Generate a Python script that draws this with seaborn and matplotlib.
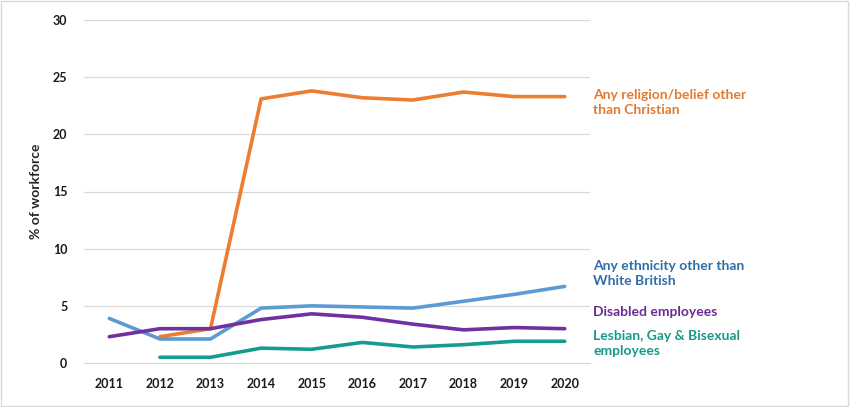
import numpy as np
import pandas as pd
import seaborn as sns
from matplotlib import pyplot as plt
from matplotlib.patches import Rectangle

years = [2011, 2012, 2013, 2014, 2015, 2016, 2017, 2018, 2019, 2020]
religion = [np.nan, 2.3, 3.0, 23.1, 23.8, 23.2, 23.0, 23.7, 23.3, 23.3]
ethnicity = [3.9, 2.1, 2.1, 4.8, 5.0, 4.9, 4.8, 5.4, 6.0, 6.7]
disabled = [2.3, 3.0, 3.0, 3.8, 4.3, 4.0, 3.4, 2.9, 3.1, 3.0]
lgb = [np.nan, 0.5, 0.5, 1.3, 1.2, 1.8, 1.4, 1.6, 1.9, 1.9]

series = {
    'Any religion/belief other\nthan Christian': religion,
    'Any ethnicity other than\nWhite British': ethnicity,
    'Disabled employees': disabled,
    'Lesbian, Gay & Bisexual\nemployees': lgb,
}
line_colors = ['#ED7D31', '#5B9BD5', '#7030A0', '#169C8E']
text_colors = ['#E07B30', '#2F6EA8', '#6A2C91', '#16998A']

rows = []
for name, vals in series.items():
    for yr, v in zip(years, vals):
        if not np.isnan(v):
            rows.append({'Year': yr, 'Value': v, 'Group': name})
df = pd.DataFrame(rows)

sns.set_style('white')
plt.rcParams['font.family'] = ['Lato', 'DejaVu Sans']

fig = plt.figure(figsize=(8.5, 4.07), dpi=100)
ax = fig.add_axes([84 / 850, 44 / 407, 506 / 850, 343 / 407])

sns.lineplot(data=df, x='Year', y='Value', hue='Group', palette=line_colors,
             linewidth=2.6, legend=False, ax=ax)

ax.set_xlim(2010.5, 2020.5)
ax.set_ylim(0, 30)
ax.set_yticks(range(0, 31, 5))
ax.set_xticks(years)
ax.set_xticks(np.arange(2010.5, 2021, 1), minor=True)
ax.grid(axis='y', color='#D9D9D9', linewidth=0.9)
ax.set_axisbelow(True)
for s in ['top', 'right', 'left']:
    ax.spines[s].set_visible(False)
ax.spines['bottom'].set_color('#D9D9D9')
ax.tick_params(axis='x', which='major', length=0, pad=11)
ax.tick_params(axis='x', which='minor', length=4, color='#D9D9D9', direction='in')
ax.tick_params(axis='y', length=0, pad=12)
for lab in ax.get_xticklabels() + ax.get_yticklabels():
    lab.set_fontsize(9)
    lab.set_fontweight('bold')
    lab.set_color('#1a1a1a')
ax.set_xlabel('')
ax.set_ylabel('% of workforce', fontsize=10, fontweight='bold', labelpad=8)

label_tops = [89, 260, 306, 330]
for (name, c, top) in zip(series.keys(), text_colors, label_tops):
    fig.text(593 / 850, 1 - top / 407, name, color=c, fontsize=10,
             fontweight='bold', va='top', ha='left', linespacing=1.3)

fig.patches.append(Rectangle((0.001, 0.002), 0.997, 0.995, transform=fig.transFigure,
                             fill=False, edgecolor='#D9D9D9', linewidth=1))

fig.savefig('out.png', dpi=100)
